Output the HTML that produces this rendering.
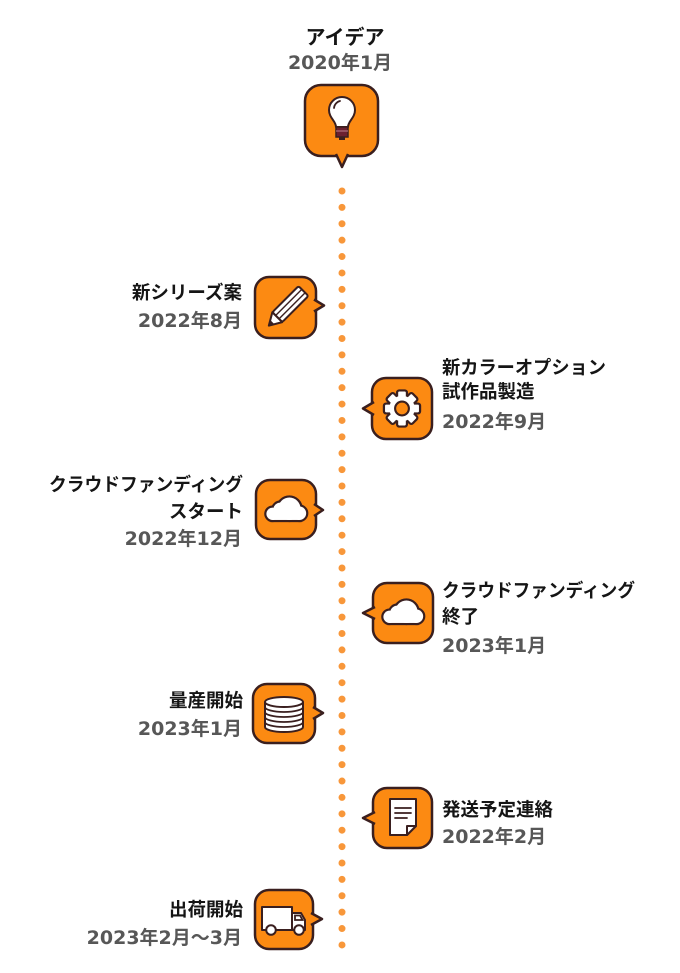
<!DOCTYPE html>
<html><head><meta charset="utf-8"><style>
html,body{margin:0;padding:0;background:#fff}
svg{display:block}
.t{font-family:"Liberation Sans","Noto Sans CJK JP",sans-serif;font-weight:700;font-size:18.5px;fill:#151515}
.h{font-family:"Liberation Sans","Noto Sans CJK JP",sans-serif;font-weight:700;font-size:20px;fill:#151515}
.d{font-family:"DejaVu Sans","Noto Sans CJK JP",sans-serif;font-weight:700;font-size:19px;fill:#575757}
.bx{fill:#FC8A12;stroke:#3a1f1f;stroke-width:2.5;stroke-linejoin:round}
.ic{fill:#fff;stroke:#3a1f1f;stroke-width:2;stroke-linejoin:round}
.ln{fill:none;stroke:#3a1f1f;stroke-width:1.8;stroke-linecap:round}
</style></head><body>
<svg width="680" height="973" viewBox="0 0 680 973" xmlns="http://www.w3.org/2000/svg">
<!-- dotted timeline -->
<line x1="342" y1="191" x2="342" y2="946" stroke="#F8973A" stroke-width="7" stroke-linecap="round" stroke-dasharray="0 16.39"/>

<!-- Top: idea -->
<text class="h" x="345" y="44" text-anchor="middle">アイデア</text>
<text class="d" x="340" y="69" text-anchor="middle">2020年1月</text>
<rect class="bx" x="305" y="85" width="73" height="71" rx="16"/>
<polyline class="bx" points="336,154 342,167 348,154"/>
<!-- bulb -->
<path class="ic" d="M336,127 C336,121 329,118 329,110 A13,13 0 1 1 355,110 C355,118 348,121 348,127 Z"/>
<path class="ln" d="M334,108 A8,8 0 0 1 340,101" stroke-width="1.5"/>
<rect x="336" y="127" width="12" height="10" fill="#6b2030" stroke="#3a1f1f" stroke-width="1.5"/>
<line x1="336" y1="131" x2="348" y2="131" stroke="#b07080" stroke-width="1.2"/>
<rect x="339" y="137" width="6" height="3" fill="#3a1f1f"/>

<!-- 新シリーズ案 -->
<text class="t" x="242" y="299" text-anchor="end">新シリーズ案</text>
<text class="d" x="242" y="327" text-anchor="end">2022年8月</text>
<rect class="bx" x="255" y="277" width="61" height="61" rx="14"/>
<polyline class="bx" points="314,299.5 324,305.5 314,311.5"/>
<g transform="translate(286.5,308) rotate(-45)">
  <rect class="ic" x="-13" y="-7" width="37" height="14" rx="2"/>
  <line x1="-13" y1="-2.4" x2="24" y2="-2.4" stroke="#3a1f1f" stroke-width="1.4"/>
  <line x1="-13" y1="2.4" x2="24" y2="2.4" stroke="#3a1f1f" stroke-width="1.4"/>
  <polygon class="ic" points="-13,-7 -25,0 -13,7"/>
  <polygon points="-20,-2.6 -25.5,0 -20,2.6" fill="#3a1f1f"/>
</g>

<!-- 新カラーオプション -->
<text class="t" x="442" y="374" textLength="164" lengthAdjust="spacingAndGlyphs">新カラーオプション</text>
<text class="t" x="442" y="398">試作品製造</text>
<text class="d" x="442" y="428">2022年9月</text>
<rect class="bx" x="372" y="378" width="60" height="61" rx="14"/>
<polyline class="bx" points="374,402 363,408.5 374,415"/>
<g transform="translate(402,408.5) scale(1.06)">
  <g fill="#3a1f1f" stroke="#3a1f1f" stroke-width="4.2" stroke-linejoin="round">
    <circle r="12"/>
    <rect x="-3.6" y="-16" width="7.2" height="8" rx="1" transform="rotate(0)"/>
    <rect x="-3.6" y="-16" width="7.2" height="8" rx="1" transform="rotate(45)"/>
    <rect x="-3.6" y="-16" width="7.2" height="8" rx="1" transform="rotate(90)"/>
    <rect x="-3.6" y="-16" width="7.2" height="8" rx="1" transform="rotate(135)"/>
    <rect x="-3.6" y="-16" width="7.2" height="8" rx="1" transform="rotate(180)"/>
    <rect x="-3.6" y="-16" width="7.2" height="8" rx="1" transform="rotate(225)"/>
    <rect x="-3.6" y="-16" width="7.2" height="8" rx="1" transform="rotate(270)"/>
    <rect x="-3.6" y="-16" width="7.2" height="8" rx="1" transform="rotate(315)"/>
  </g>
  <g fill="#fff">
    <circle r="12"/>
    <rect x="-3.6" y="-16" width="7.2" height="8" rx="1" transform="rotate(0)"/>
    <rect x="-3.6" y="-16" width="7.2" height="8" rx="1" transform="rotate(45)"/>
    <rect x="-3.6" y="-16" width="7.2" height="8" rx="1" transform="rotate(90)"/>
    <rect x="-3.6" y="-16" width="7.2" height="8" rx="1" transform="rotate(135)"/>
    <rect x="-3.6" y="-16" width="7.2" height="8" rx="1" transform="rotate(180)"/>
    <rect x="-3.6" y="-16" width="7.2" height="8" rx="1" transform="rotate(225)"/>
    <rect x="-3.6" y="-16" width="7.2" height="8" rx="1" transform="rotate(270)"/>
    <rect x="-3.6" y="-16" width="7.2" height="8" rx="1" transform="rotate(315)"/>
  </g>
  <circle r="6.5" fill="#FC8A12" stroke="#3a1f1f" stroke-width="2"/>
</g>

<!-- クラウドファンディング スタート -->
<text class="t" x="243" y="491" text-anchor="end" textLength="194" lengthAdjust="spacingAndGlyphs">クラウドファンディング</text>
<text class="t" x="243" y="518" text-anchor="end">スタート</text>
<text class="d" x="242" y="545" text-anchor="end">2022年12月</text>
<rect class="bx" x="256" y="480" width="60" height="59" rx="14"/>
<polyline class="bx" points="314,504 323,510 314,516"/>
<g transform="translate(286,511) scale(1.12)">
  <g fill="#3a1f1f" stroke="#3a1f1f" stroke-width="3.9">
    <circle cx="-12" cy="2.5" r="5.5"/><circle cx="-5" cy="-1" r="6.5"/><circle cx="3" cy="-2" r="10"/><circle cx="12" cy="2" r="6"/><rect x="-12" y="0" width="24" height="8"/>
  </g>
  <g fill="#fff">
    <circle cx="-12" cy="2.5" r="5.5"/><circle cx="-5" cy="-1" r="6.5"/><circle cx="3" cy="-2" r="10"/><circle cx="12" cy="2" r="6"/><rect x="-12" y="0" width="24" height="8"/>
  </g>
</g>

<!-- クラウドファンディング 終了 -->
<text class="t" x="442" y="597" textLength="193" lengthAdjust="spacingAndGlyphs">クラウドファンディング</text>
<text class="t" x="442" y="623">終了</text>
<text class="d" x="442" y="652">2023年1月</text>
<rect class="bx" x="373" y="583" width="60" height="60" rx="14"/>
<polyline class="bx" points="375,607 363,613 375,619"/>
<g transform="translate(403,614) scale(1.12)">
  <g fill="#3a1f1f" stroke="#3a1f1f" stroke-width="3.9">
    <circle cx="-12" cy="2.5" r="5.5"/><circle cx="-5" cy="-1" r="6.5"/><circle cx="3" cy="-2" r="10"/><circle cx="12" cy="2" r="6"/><rect x="-12" y="0" width="24" height="8"/>
  </g>
  <g fill="#fff">
    <circle cx="-12" cy="2.5" r="5.5"/><circle cx="-5" cy="-1" r="6.5"/><circle cx="3" cy="-2" r="10"/><circle cx="12" cy="2" r="6"/><rect x="-12" y="0" width="24" height="8"/>
  </g>
</g>

<!-- 量産開始 -->
<text class="t" x="243" y="707" text-anchor="end">量産開始</text>
<text class="d" x="242" y="735" text-anchor="end">2023年1月</text>
<rect class="bx" x="253" y="684" width="62" height="59" rx="14"/>
<polyline class="bx" points="313,707 323,713 313,719"/>
<path class="ic" d="M265,702 V727 A19,5 0 0 0 303,727 V702 Z"/>
<ellipse class="ic" cx="284" cy="702" rx="19" ry="5"/>
<path class="ln" d="M265,707 A19,5 0 0 0 303,707 M265,712 A19,5 0 0 0 303,712 M265,717 A19,5 0 0 0 303,717 M265,722 A19,5 0 0 0 303,722"/>

<!-- 発送予定連絡 -->
<text class="t" x="442" y="816">発送予定連絡</text>
<text class="d" x="442" y="843">2022年2月</text>
<rect class="bx" x="373" y="788" width="59" height="60" rx="14"/>
<polyline class="bx" points="375,812 363,818 375,824"/>
<path class="ic" d="M390,799 H416 V826 L407,835 H390 Z"/>
<path class="ic" d="M416,826 H407 V835 Z"/>
<path class="ln" d="M395,808 H411 M395,813 H411 M395,818 H407" stroke-width="2"/>

<!-- 出荷開始 -->
<text class="t" x="243" y="916" text-anchor="end">出荷開始</text>
<text class="d" x="242" y="944" text-anchor="end">2023年2月〜3月</text>
<rect class="bx" x="255" y="890" width="58" height="59" rx="14"/>
<polyline class="bx" points="311,913 322,919 311,925"/>
<rect class="ic" x="262" y="907" width="30" height="23"/>
<path class="ic" d="M292,913 H301 L305,920 V930 H292 Z"/>
<path class="ln" d="M295,915.5 H300 L302.5,920 H295 Z" stroke-width="1.5"/>
<circle class="ic" cx="271" cy="930" r="4.8"/>
<circle class="ic" cx="299" cy="930" r="4.8"/>
</svg>
</body></html>
